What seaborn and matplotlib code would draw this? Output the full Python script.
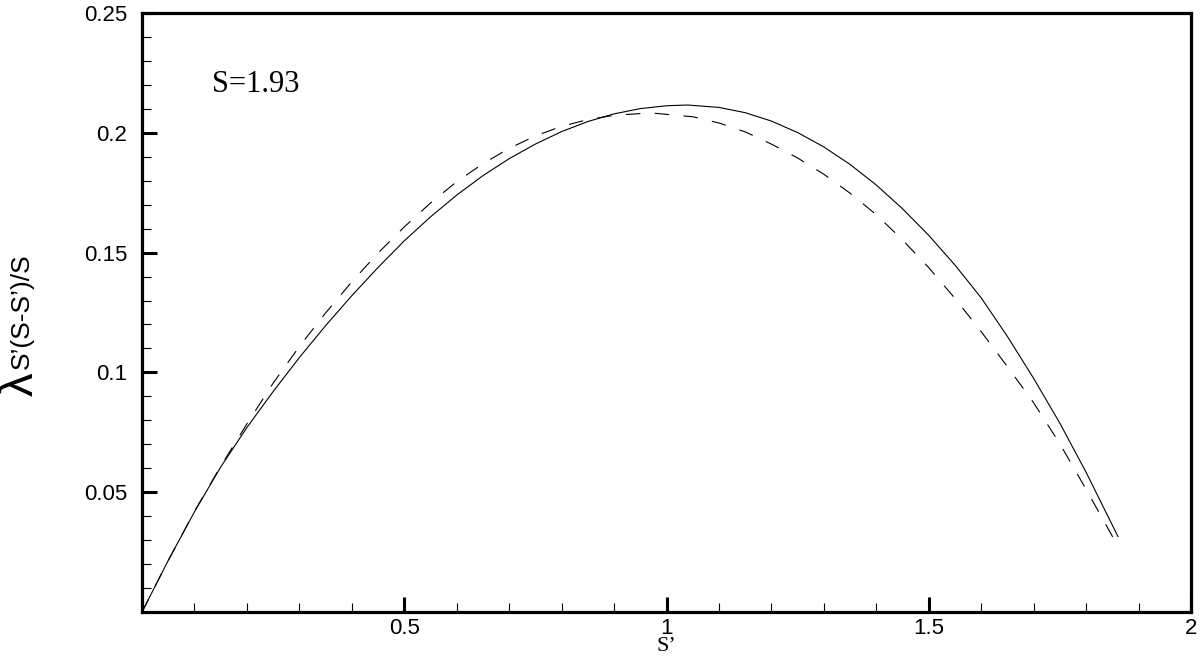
import numpy as np
import pandas as pd
import matplotlib
matplotlib.use("Agg")
import matplotlib.pyplot as plt
from matplotlib.ticker import MultipleLocator, FixedLocator, FixedFormatter
import seaborn as sns

# ---- data ----
solid_x = [0.00, 0.05, 0.10, 0.15, 0.20, 0.25, 0.30, 0.35, 0.40, 0.45, 0.50,
           0.55, 0.60, 0.65, 0.70, 0.75, 0.80, 0.85, 0.90, 0.95, 1.00, 1.04,
           1.10, 1.15, 1.20, 1.25, 1.30, 1.35, 1.40, 1.45, 1.50, 1.55, 1.60,
           1.65, 1.70, 1.75, 1.80, 1.861]
solid_y = [0.0000, 0.0215, 0.0418, 0.0605, 0.0770, 0.0920, 0.1062, 0.1195, 0.1320, 0.1438, 0.1549,
           0.1649, 0.1740, 0.1821, 0.1892, 0.1953, 0.2005, 0.2047, 0.2079, 0.2101, 0.2113, 0.2116,
           0.2106, 0.2084, 0.2049, 0.2001, 0.1941, 0.1868, 0.1782, 0.1683, 0.1572, 0.1448, 0.1311,
           0.1150, 0.0975, 0.0788, 0.0583, 0.0314]

dashed_x = [0.00, 0.05, 0.10, 0.15, 0.20, 0.25, 0.30, 0.35, 0.40, 0.45, 0.50,
            0.55, 0.60, 0.65, 0.70, 0.75, 0.80, 0.85, 0.90, 0.97, 1.05,
            1.10, 1.15, 1.20, 1.25, 1.30, 1.35, 1.40, 1.45, 1.50, 1.55, 1.60,
            1.65, 1.70, 1.75, 1.80, 1.861]
dashed_y = [0.0000, 0.0215, 0.0420, 0.0608, 0.0785, 0.0955, 0.1108, 0.1248, 0.1378, 0.1498, 0.1607,
            0.1707, 0.1796, 0.1871, 0.1935, 0.1987, 0.2027, 0.2055, 0.2073, 0.2083, 0.2067,
            0.2041, 0.2004, 0.1953, 0.1895, 0.1827, 0.1748, 0.1658, 0.1553, 0.1437, 0.1309, 0.1170,
            0.1024, 0.0873, 0.0702, 0.0512, 0.0273]

series_names = ["solid", "dashed"]
x_tick_vals = [0.5, 1.0, 1.5, 2.0]
x_tick_labels = ["0.5", "1", "1.5", "2"]
y_tick_vals = [0.05, 0.10, 0.15, 0.20, 0.25]
y_tick_labels = ["0.05", "0.1", "0.15", "0.2", "0.25"]
annotation = "S=1.93"
x_label = "S\u2019"
y_label_greek = "\u03bb"
y_label_rest = "S\u2019(S-S\u2019)/S"

df = pd.concat([
    pd.DataFrame({"x": solid_x, "y": solid_y, "series": series_names[0]}),
    pd.DataFrame({"x": dashed_x, "y": dashed_y, "series": series_names[1]}),
], ignore_index=True)

sns.set_theme(style="white")
plt.rcParams["font.family"] = ["Liberation Sans", "DejaVu Sans"]

fig = plt.figure(figsize=(12, 6.61), dpi=100)
ax = fig.add_axes([142 / 1200, 49 / 661, 1049 / 1200, 599 / 661])

sns.lineplot(data=df, x="x", y="y", style="series", style_order=series_names,
             dashes={"solid": "", "dashed": (13, 13)}, color="black",
             linewidth=0.8, sort=False, estimator=None, legend=False, ax=ax)

ax.set_xlim(0, 2)
ax.set_ylim(0, 0.25)

ax.xaxis.set_major_locator(FixedLocator(x_tick_vals))
ax.xaxis.set_major_formatter(FixedFormatter(x_tick_labels))
ax.yaxis.set_major_locator(FixedLocator(y_tick_vals))
ax.yaxis.set_major_formatter(FixedFormatter(y_tick_labels))
ax.xaxis.set_minor_locator(MultipleLocator(0.1))
ax.yaxis.set_minor_locator(MultipleLocator(0.01))

ax.tick_params(axis="both", which="major", direction="in", length=10.8, width=2.2,
               color="black", labelsize=16, labelcolor="black")
ax.tick_params(axis="both", which="minor", direction="in", length=6.5, width=0.8,
               color="black")
ax.tick_params(axis="x", which="both", bottom=True, top=False, pad=4)
ax.tick_params(axis="y", which="both", left=True, right=False, pad=10.5)

for sp in ax.spines.values():
    sp.set_visible(True)
    sp.set_linewidth(2.3)
    sp.set_color("black")

ax.set_xlabel(x_label, fontsize=16, family="Liberation Serif", color="black")
ax.xaxis.set_label_coords(0.4995, -0.041)
ax.set_ylabel("")

ax.text(0.1335, 0.2172, annotation, fontsize=22, family="Liberation Serif",
        color="black", va="baseline", ha="left")

fig.text(21 / 1200, (661 - 384) / 661, y_label_greek, rotation=90, fontsize=34,
         ha="center", va="center", color="black")
fig.text(22 / 1200, (661 - 311) / 661, y_label_rest, rotation=90, fontsize=19,
         ha="center", va="center", color="black")

fig.savefig("out.png", dpi=100)
